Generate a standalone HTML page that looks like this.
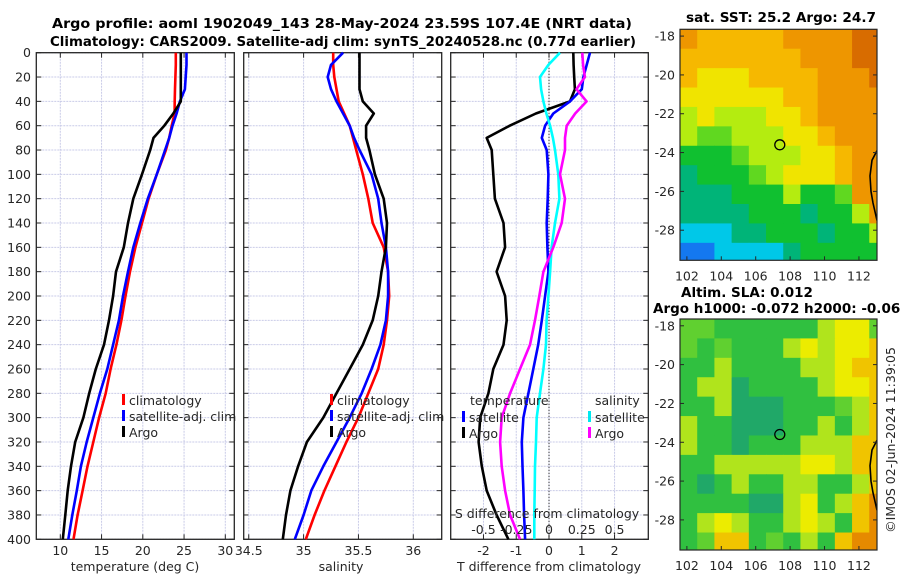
<!DOCTYPE html>
<html><head><meta charset="utf-8"><style>
html,body{margin:0;padding:0;background:#fff;}
svg{display:block;font-family:"DejaVu Sans","Liberation Sans",sans-serif;}
</style></head><body>
<svg id="chart" width="900" height="580" viewBox="0 0 900 580">
<g id="titles">
<text x="52" y="28" font-size="13.5" font-weight="bold" textLength="580" lengthAdjust="spacingAndGlyphs">Argo profile: aoml 1902049_143 28-May-2024 23.59S 107.4E (NRT data)</text>
<text x="50" y="46" font-size="13.5" font-weight="bold" textLength="586" lengthAdjust="spacingAndGlyphs">Climatology: CARS2009. Satellite-adj clim: synTS_20240528.nc (0.77d earlier)</text>
</g>
<g id="layer"></g>
</svg>
<script>
// ---- data ----
const depths=[0,10,20,30,40,50,60,70,80,100,120,140,160,180,200,220,240,260,280,300,320,340,360,380,400];
const tempClim=[24.0,24.0,23.95,23.9,23.87,23.85,23.5,23.2,22.8,21.7,20.7,19.9,19.1,18.45,17.9,17.4,16.8,16.1,15.5,14.7,14.0,13.3,12.7,12.1,11.6];
const tempSat=[25.3,25.3,25.2,25.1,24.5,24.1,23.6,23.2,22.7,21.7,20.6,19.7,18.85,18.2,17.6,17.1,16.4,15.7,14.8,14.0,13.2,12.5,12.0,11.45,10.97];
const tempArgo=[24.6,24.6,24.6,24.6,24.6,23.7,22.6,21.3,20.9,19.9,18.85,18.2,17.7,16.75,16.4,15.9,15.3,14.3,13.5,12.8,11.8,11.3,10.9,10.6,10.3];
const salClim=[35.27,35.27,35.28,35.30,35.32,35.37,35.42,35.45,35.48,35.54,35.59,35.63,35.73,35.77,35.78,35.76,35.73,35.68,35.59,35.50,35.39,35.29,35.19,35.10,35.02];
const salSat=[35.36,35.25,35.22,35.25,35.30,35.36,35.42,35.46,35.51,35.62,35.68,35.71,35.75,35.77,35.77,35.75,35.70,35.62,35.53,35.42,35.30,35.18,35.07,35.0,34.92];
const salArgo=[35.51,35.51,35.51,35.51,35.54,35.64,35.57,35.57,35.60,35.65,35.73,35.76,35.75,35.71,35.68,35.63,35.54,35.42,35.30,35.18,35.03,34.95,34.88,34.84,34.81];
const tDiffArgo=[0.74,0.75,0.77,0.79,0.64,-0.4,-1.2,-1.9,-1.75,-1.70,-1.65,-1.39,-1.34,-1.60,-1.34,-1.29,-1.39,-1.70,-1.85,-2.10,-2.15,-2.05,-1.90,-1.60,-1.24];
const tDiffSat=[1.25,1.15,1.05,1.0,0.64,0.13,-0.12,-0.22,-0.07,-0.02,-0.04,-0.07,-0.05,-0.02,-0.12,-0.22,-0.33,-0.48,-0.63,-0.78,-0.83,-0.81,-0.78,-0.76,-0.73];
const sDiffSat=[0.084,-0.005,-0.069,-0.06,-0.043,-0.02,0.008,0.03,0.046,0.071,0.079,0.046,0.02,0.008,-0.005,-0.018,-0.023,-0.043,-0.069,-0.094,-0.099,-0.107,-0.109,-0.112,-0.112];
const sDiffArgo=[0.254,0.26,0.274,0.21,0.287,0.2,0.135,0.122,0.122,0.084,0.122,0.097,0.033,-0.043,-0.074,-0.107,-0.145,-0.221,-0.297,-0.361,-0.373,-0.361,-0.335,-0.297,-0.221];
const depthTicks=[0,20,40,60,80,100,120,140,160,180,200,220,240,260,280,300,320,340,360,380,400];
const tempTicks=[10,15,20,25,30];
const salTicks=[34.5,35,35.5,36];
const tdTicks=[-2,-1,0,1,2];
const sdTicks=[-0.5,-0.25,0,0.25,0.5];
const sstGrid=["oyyyyyooooOO","yyyyyyyoooOO","yYYYyyyyoooO","YYYYYYyyoooo","lYlllYYyoooo","lgglllYYyooo","GGGglllYYyoo","tGGGglYYYyoo","tttGGGlGGgoo","ttttGGGtGGlo","cccttGGGtGGl","bbcccctGGGGG"];
const slaGrid=["ggGGGGGGlYYg","gGgGGGlYlYYy","GGlGGGGllYyy","GlltGGGGlYYy","GGltttGGGgly","lGGtttGGlGly","lGGtGGGlllyy","GGlllllYYlyy","GtGlGGllGGly","GGGGttlYGlyo","GlYlGGlYlGyo","GgyyGgGlGyoo"];
const lonTicks=[102,104,106,108,110,112];
const latTicks=[-18,-20,-22,-24,-26,-28];
const argoLon=107.4, argoLat=-23.6;

// ---- helpers ----
const NS="http://www.w3.org/2000/svg";
const layer=document.getElementById('layer');
function mk(tag,attrs,parent){const e=document.createElementNS(NS,tag);for(const k in attrs)e.setAttribute(k,attrs[k]);(parent||layer).appendChild(e);return e;}
const Y0=52.7, YS=1.2165;
function yD(d){return Y0+d*YS;}
const panels=[
 {x0:36.3,x1:234.3,vmin:7.09,vmax:31.09},
 {x0:243.7,x1:441.7,vmin:34.454,vmax:36.259},
 {x0:450.7,x1:648.3,vmin:-3.0,vmax:3.03}
];
function xV(p,v){return p.x0+(v-p.vmin)/(p.vmax-p.vmin)*(p.x1-p.x0);}
function txt(x,y,s,attrs,parent){const t=mk('text',Object.assign({x:x,y:y,'font-size':12.5,fill:'#262626'},attrs||{}),parent);t.textContent=s;return t;}

function drawPanel(p,ticks,tickLabels,idx){
  const g=mk('g',{});
  
  
  depthTicks.forEach(d=>{
    const l=mk('line',{x1:p.x0,x2:p.x1,y1:yD(d),y2:yD(d),stroke:'#c9cbe8','stroke-width':1,'stroke-dasharray':'2,1'},g);
    
    
    mk('line',{x1:p.x0,x2:p.x0+5,y1:yD(d),y2:yD(d),stroke:'#262626'},g);
    mk('line',{x1:p.x1-5,x2:p.x1,y1:yD(d),y2:yD(d),stroke:'#262626'},g);
  });
  ticks.forEach((v,i)=>{
    const x=xV(p,v);
    const l=mk('line',{x1:x,x2:x,y1:Y0,y2:yD(400),stroke:'#c9cbe8','stroke-width':1,'stroke-dasharray':'2,1'},g);
    
    
    mk('line',{x1:x,x2:x,y1:yD(400)-5,y2:yD(400),stroke:'#262626'},g);
    mk('line',{x1:x,x2:x,y1:Y0,y2:Y0+5,stroke:'#262626'},g);
    const t=txt(x,555,tickLabels[i],{'text-anchor':'middle'},g);
    
    
  });
  const r=mk('rect',{x:p.x0,y:Y0,width:p.x1-p.x0,height:yD(400)-Y0,fill:'none',stroke:'#262626','stroke-width':1.3},g);
  
  
  return g;
}
function series(p,vals,color,name,scale){
  const pts=vals.map((v,i)=>xV(p,v*(scale||1)).toFixed(1)+','+yD(depths[i]).toFixed(1)).join(' ');
  const pl=mk('polyline',{points:pts,fill:'none',stroke:color,'stroke-width':2.6,'stroke-linejoin':'round'});
  
  
}
function legendEntry(x,y,color,label,name){
  const g=mk('g',{});
  
  
  mk('rect',{x:x,y:y-7,width:3,height:11,fill:color},g);
  txt(x+7,y+4,label,{},g);
}

// panel 1
drawPanel(panels[0],tempTicks,tempTicks.map(String),1);
depthTicks.forEach(d=>{const t=txt(31,yD(d)+4.5,String(d),{'text-anchor':'end'});
  
  });
series(panels[0],tempClim,'#ff0000','temp-climatology-line');
series(panels[0],tempSat,'#0000ff','temp-satellite-line');
series(panels[0],tempArgo,'#000000','temp-argo-line');
let t1=txt(135,571,'temperature (deg C)',{'text-anchor':'middle'});


legendEntry(122,401,'#ff0000','climatology','legend-climatology');
legendEntry(122,417,'#0000ff','satellite-adj. clim','legend-satellite-adj');
legendEntry(122,433,'#000000','Argo','legend-argo');

// panel 2
drawPanel(panels[1],salTicks,['34.5','35','35.5','36'],2);
series(panels[1],salClim,'#ff0000','sal-climatology-line');
series(panels[1],salSat,'#0000ff','sal-satellite-line');
series(panels[1],salArgo,'#000000','sal-argo-line');
let t2=txt(341,571,'salinity',{'text-anchor':'middle'});


legendEntry(330,401,'#ff0000','climatology','legend-climatology-2');
legendEntry(330,417,'#0000ff','satellite-adj. clim','legend-satellite-adj-2');
legendEntry(330,433,'#000000','Argo','legend-argo-2');

// panel 3
const p3=panels[2];
drawPanel(p3,tdTicks,tdTicks.map(String),3);
mk('line',{x1:xV(p3,0),x2:xV(p3,0),y1:Y0,y2:yD(400),stroke:'#000','stroke-width':1,'stroke-dasharray':'1,2'});
series(p3,tDiffArgo,'#000000','tdiff-argo-line');
series(p3,tDiffSat,'#0000ff','tdiff-satellite-line');
series(p3,sDiffSat,'#00ffff','sdiff-satellite-line',4);
series(p3,sDiffArgo,'#ff00ff','sdiff-argo-line',4);
let t3=txt(549,571,'T difference from climatology',{'text-anchor':'middle'});


let t4=txt(547,518,'S difference from climatology',{'text-anchor':'middle'});


sdTicks.forEach(v=>{const t=txt(xV(p3,v*4),534,String(v),{'text-anchor':'middle'});
  
  });
let tl=txt(470,405,'temperature',{});


let sl=txt(595,405,'salinity',{});


legendEntry(462,418,'#0000ff','satellite','legend-tdiff-satellite');
legendEntry(462,434,'#000000','Argo','legend-tdiff-argo');
legendEntry(588,418,'#00e8f0','satellite','legend-sdiff-satellite');
legendEntry(588,434,'#ff00ff','Argo','legend-sdiff-argo');

// ---- maps ----
const sstColors={O:'#d86c00',o:'#ee9600',y:'#f6b800',Y:'#f0e400',l:'#b4ec10',g:'#60d820',G:'#10c030',t:'#00b478',c:'#00c8e8',b:'#1478f0',B:'#0040d0'};
const slaColors={G:'#30c040',t:'#20a868',g:'#60d030',l:'#b0e41c',Y:'#ecec00',y:'#f0c400',o:'#e68a00'};
const MX0=680, MX1=877, LON0=101.6, LON1=113.05;
function drawMap(top,grid,colors,name){
  const bot=top+231, LAT0=-17.65, LAT1=-29.55;
  const lx=lon=>MX0+(lon-LON0)/(LON1-LON0)*(MX1-MX0);
  const ly=lat=>top+(LAT0-lat)/(LAT0-LAT1)*(bot-top);
  const g=mk('g',{});
  
  
  const cid='clip'+Math.round(top);
  const cp=mk('clipPath',{id:cid},g);mk('rect',{x:MX0,y:top,width:MX1-MX0,height:bot-top},cp);
  const cg=mk('g',{'clip-path':'url(#'+cid+')'},g);
  grid.forEach((row,r)=>{[...row].forEach((ch,c)=>{
    const x=lx(LON0+c), y=ly(LAT0-r);
    const cell=mk('rect',{x:x,y:y,width:lx(LON0+c+1)-x+0.5,height:ly(LAT0-r-1)-y+0.5,fill:colors[ch]},cg);
    
    
  });});
  const coast=mk('polyline',{points:[[877,-23.9],[872,-24.4],[870,-25.2],[871,-26.0],[873,-26.6],[877,-27.5]].map(p=>p[0]+','+ly(p[1]).toFixed(1)).join(' '),fill:'none',stroke:'#000','stroke-width':1.6},cg);
  
  
  const mkr=mk('circle',{cx:lx(argoLon),cy:ly(argoLat),r:5,fill:'none',stroke:'#000','stroke-width':1.3},g);
  
  
  mk('rect',{x:MX0,y:top,width:MX1-MX0,height:bot-top,fill:'none',stroke:'#262626','stroke-width':1.2},g);
  latTicks.forEach(v=>{const y=ly(v);
    mk('line',{x1:MX0,x2:MX0+4,y1:y,y2:y,stroke:'#262626'},g);
    mk('line',{x1:MX1-4,x2:MX1,y1:y,y2:y,stroke:'#262626'},g);
    const t=txt(675,y+4.5,String(v),{'text-anchor':'end'},g);
    
    });
  lonTicks.forEach(v=>{const x=lx(v);
    mk('line',{x1:x,x2:x,y1:bot-4,y2:bot,stroke:'#262626'},g);
    const t=txt(x,bot+20,String(v),{'text-anchor':'middle'},g);
    
    });
}
drawMap(29.3,sstGrid,sstColors,'sst-map');
drawMap(319,slaGrid,slaColors,'sla-map');
let m1=txt(686,22,'sat. SST: 25.2 Argo: 24.7',{'font-weight':'bold','font-size':13.5,fill:'#000',textLength:190,lengthAdjust:'spacingAndGlyphs'});


let m2=txt(681,297,'Altim. SLA: 0.012',{'font-weight':'bold','font-size':13.5,fill:'#000'});


let m3=txt(653,313,'Argo h1000: -0.072 h2000: -0.063',{'font-weight':'bold','font-size':13.5,fill:'#000'});


let cr=txt(0,0,'©IMOS 02-Jun-2024 11:39:05',{'text-anchor':'middle','transform':'translate(895,440) rotate(-90)'});


</script>
</body></html>
